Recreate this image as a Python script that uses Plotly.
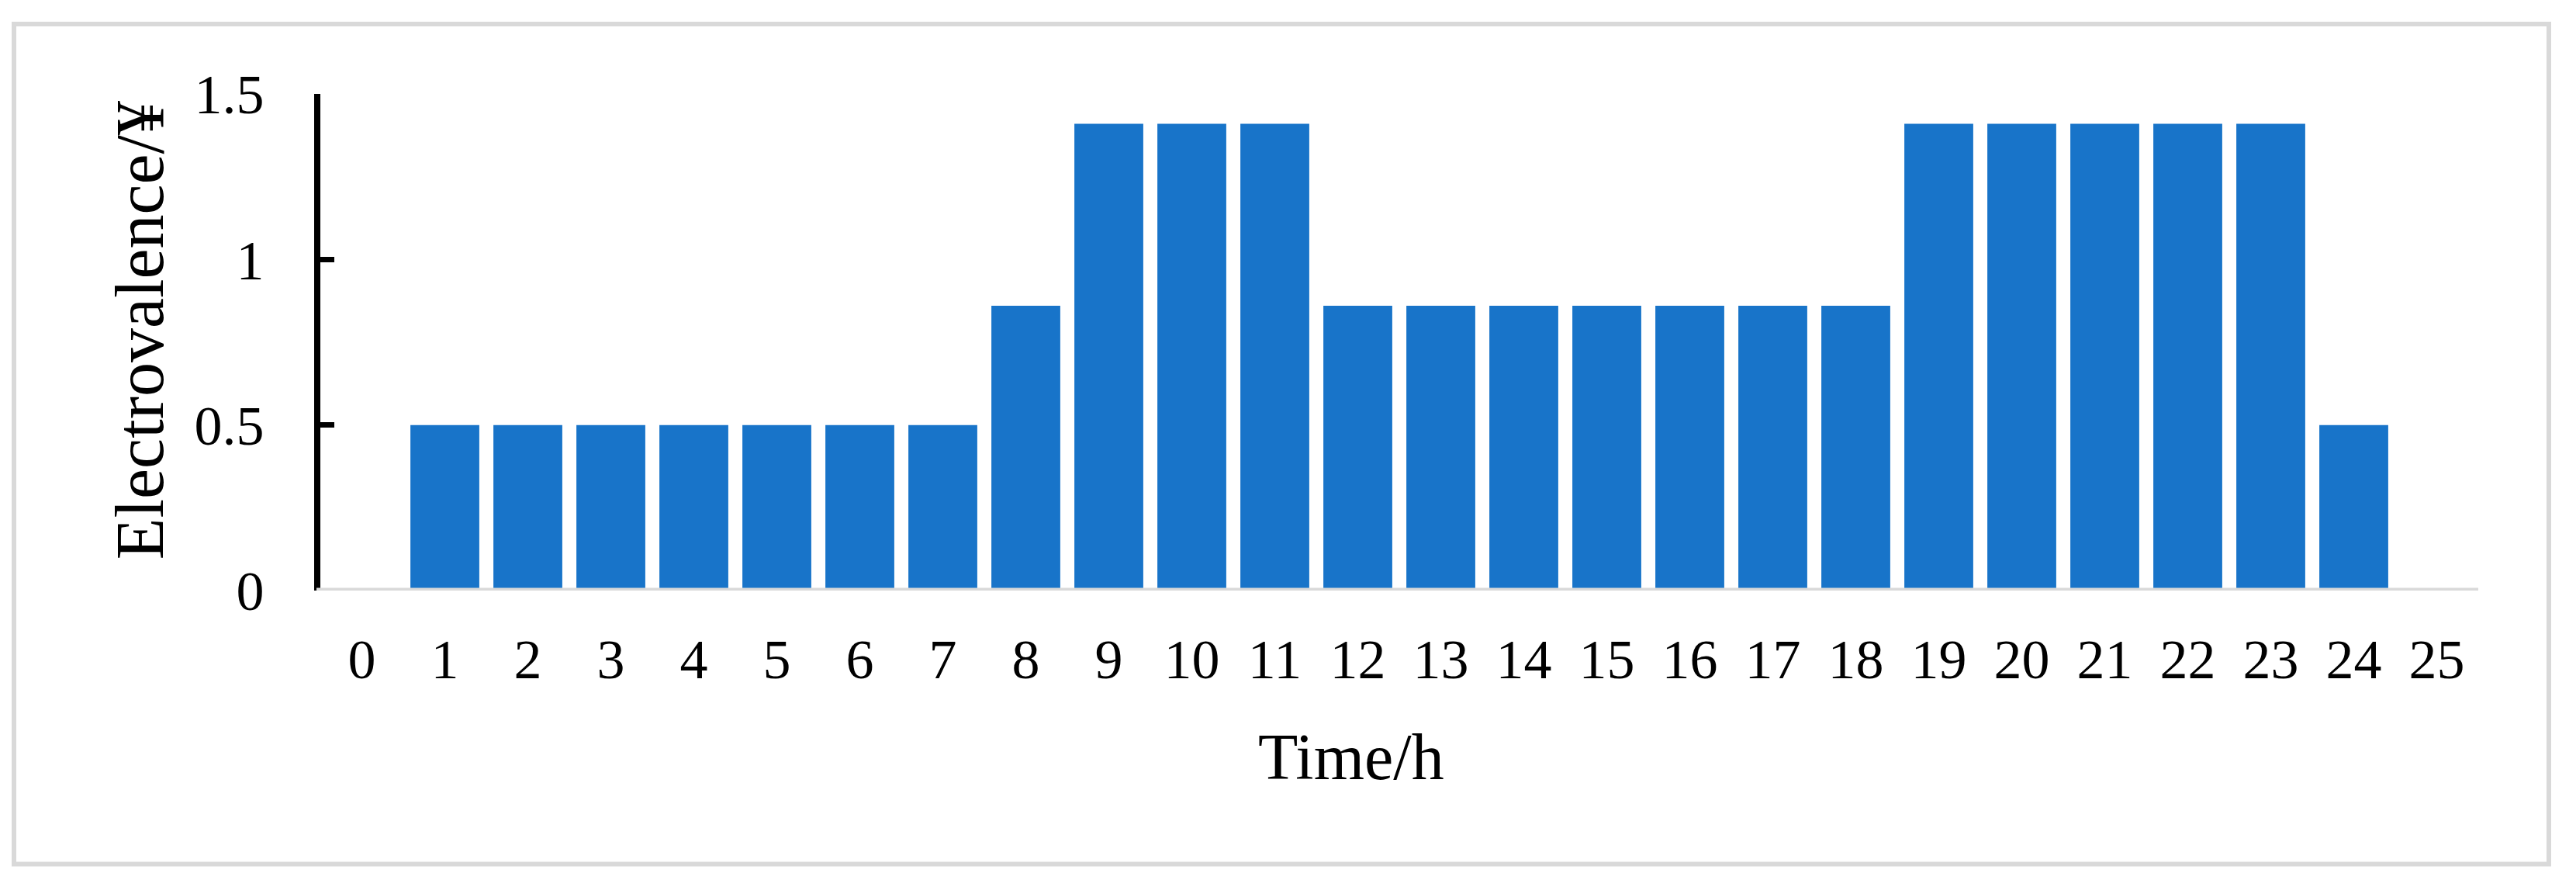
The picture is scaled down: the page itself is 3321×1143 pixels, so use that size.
import plotly.graph_objects as go

# ---- data ----
hours = list(range(0, 26))
tick_labels = [str(h) for h in hours]
price = [None, 0.5, 0.5, 0.5, 0.5, 0.5, 0.5, 0.5, 0.86, 1.41, 1.41, 1.41,
         0.86, 0.86, 0.86, 0.86, 0.86, 0.86, 0.86, 1.41, 1.41, 1.41, 1.41,
         1.41, 0.5, None]
y_ticks = [0, 0.5, 1, 1.5]
y_tick_text = ["0", "0.5", "1", "1.5"]

OFF = 8  # default page body margin
W, H = 3321 - 2 * OFF, 1143 - 2 * OFF
# plot area in screen pixels
SX0, SX1, SY0, SY1 = 413, 3195, 121, 760.7
L = SX0 - OFF
T = SY0 - OFF
B = H - (SY1 - OFF)
R = W - (SX1 - OFF)


def px_x(p):
    return (p - SX0) / (SX1 - SX0)


def px_y(p):
    return (SY1 - p) / (SY1 - SY0)


FONT = "Liberation Serif, Times New Roman, serif"
BLUE = "#1874C9"
GRAY = "#D9D9D9"

fig = go.Figure()
fig.add_trace(go.Bar(
    x=hours, y=price,
    marker=dict(color=BLUE, line=dict(width=0)),
    hoverinfo="skip",
))

fig.update_layout(
    width=W, height=H,
    margin=dict(l=L, r=R, t=T, b=B, pad=0),
    paper_bgcolor="white", plot_bgcolor="white",
    showlegend=False,
    bargap=0.17,
    font=dict(family=FONT, color="black", size=72),
    xaxis=dict(
        range=[-0.5, 25.5], tickmode="array", tickvals=hours, ticktext=tick_labels,
        showline=False, showgrid=False, zeroline=False, ticks="",
        tickfont=dict(family=FONT, size=72, color="black"),
        ticklabelstandoff=40,
    ),
    yaxis=dict(
        range=[0, 1.5], tickmode="array", tickvals=y_ticks, ticktext=y_tick_text,
        showline=True, linecolor="black", linewidth=8,
        ticks="inside", ticklen=18, tickwidth=7, tickcolor="black",
        showgrid=False, zeroline=False,
        tickfont=dict(family=FONT, size=72, color="black"),
        ticklabelstandoff=50,
    ),
)

# gray horizontal axis line at y=0, above bars
fig.add_shape(type="line", xref="paper", yref="y", x0=px_x(408), x1=1, y0=0, y1=0,
              line=dict(color=GRAY, width=7), layer="above")

# outer chart border
fig.add_shape(type="rect", xref="paper", yref="paper",
              x0=px_x(18), x1=px_x(3286), y0=px_y(31), y1=px_y(1113),
              line=dict(color=GRAY, width=6), fillcolor="rgba(0,0,0,0)", layer="below")

# axis titles
fig.add_annotation(text="Time/h", xref="paper", yref="paper",
                   x=px_x(1742), y=px_y(975), xanchor="center", yanchor="middle",
                   showarrow=False, font=dict(family=FONT, size=84, color="black"))
fig.add_annotation(text="Electrovalence/¥", xref="paper", yref="paper",
                   x=px_x(180), y=px_y(426), xanchor="center", yanchor="middle",
                   textangle=-90, showarrow=False,
                   font=dict(family=FONT, size=88, color="black"))

fig.write_html("out.html")
